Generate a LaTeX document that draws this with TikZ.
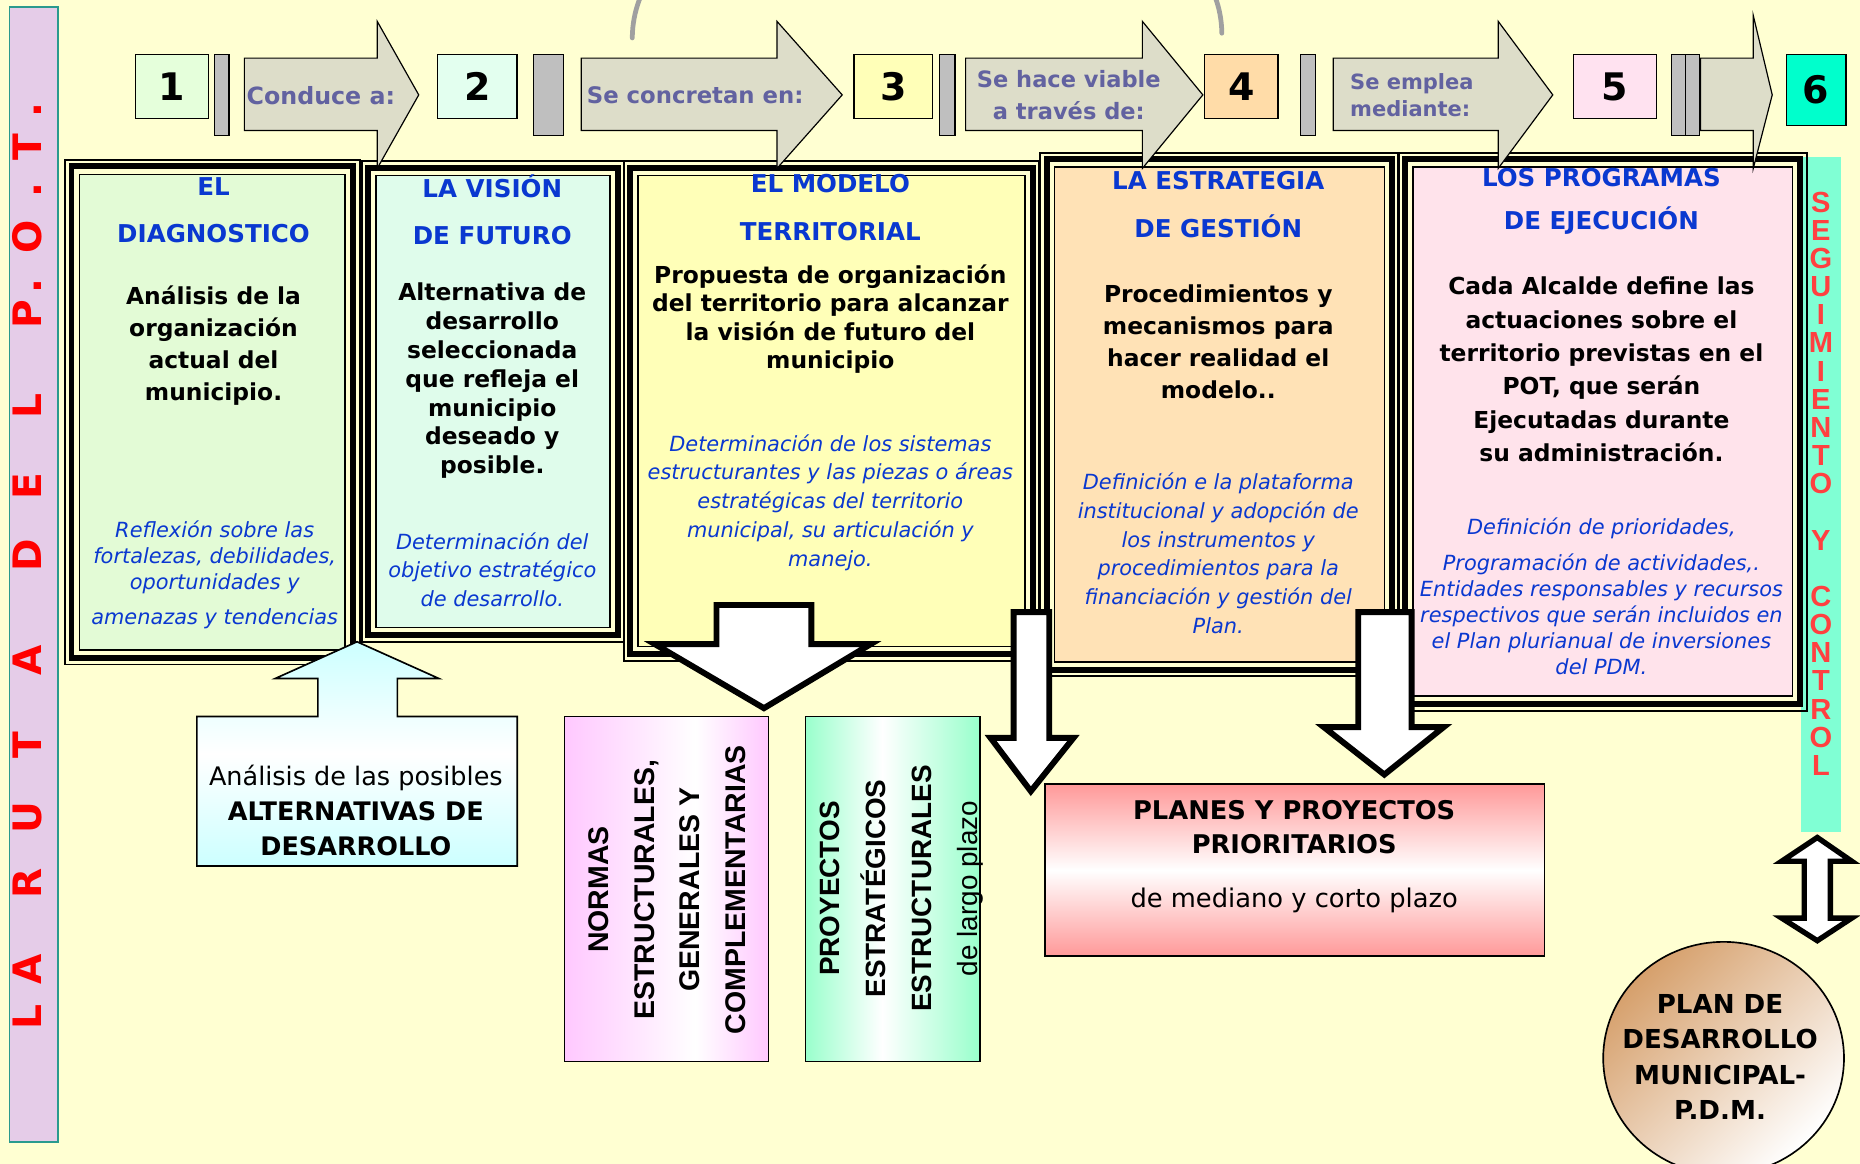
\documentclass[tikz,border=0pt]{standalone}
\usepackage{fontspec}
\setmainfont{DejaVu Sans}
\newfontfamily\arialf{Liberation Sans}
\usetikzlibrary{shapes.geometric}

\definecolor{bgc}{HTML}{FFFFD2}
\definecolor{fillA}{HTML}{E3FBD6}
\definecolor{fillB}{HTML}{DFFCEB}
\definecolor{fillC}{HTML}{FFFFB8}
\definecolor{fillD}{HTML}{FFE2B6}
\definecolor{fillE}{HTML}{FFE3EB}
\definecolor{num1}{HTML}{E5FFDB}
\definecolor{num2}{HTML}{E3FFEF}
\definecolor{num3}{HTML}{FFFFB8}
\definecolor{num4}{HTML}{FFDCA8}
\definecolor{num5}{HTML}{FFE2F0}
\definecolor{num6}{HTML}{00FFCC}
\definecolor{flowfill}{HTML}{DDDDC9}
\definecolor{bargray}{HTML}{BFBFBF}
\definecolor{ttlblue}{HTML}{0A38D0}
\definecolor{itblue}{HTML}{0A38D0}
\definecolor{slate}{HTML}{6262A0}
\definecolor{lav}{HTML}{E5CCE8}
\definecolor{tealb}{HTML}{2A9A8E}
\definecolor{aqua}{HTML}{80FFD4}
\definecolor{segred}{HTML}{FF4040}
\definecolor{arcgray}{HTML}{A0A0A0}
\definecolor{cyanA}{HTML}{CCFFFF}
\definecolor{pinkN}{HTML}{FFC8FF}
\definecolor{greenP}{HTML}{99FFCC}
\definecolor{pinkP}{HTML}{FF9999}
\definecolor{tanE}{HTML}{D6A06C}

\pgfdeclarehorizontalshading{normshade}{100bp}{color(0bp)=(pinkN); color(25bp)=(pinkN); color(57bp)=(white); color(75bp)=(pinkN); color(100bp)=(pinkN)}
\pgfdeclarehorizontalshading{proyshade}{100bp}{color(0bp)=(greenP); color(25bp)=(greenP); color(47bp)=(white); color(75bp)=(greenP); color(100bp)=(greenP)}

\newcommand\tripleframe[1]{%
  \draw[line width=5pt] ([xshift=-6pt,yshift=6pt]#1.north west) rectangle ([xshift=6pt,yshift=-6pt]#1.south east);
  \draw[line width=1.6pt] ([xshift=-11.5pt,yshift=11.5pt]#1.north west) rectangle ([xshift=11.5pt,yshift=-11.5pt]#1.south east);}

\begin{document}
\begin{tikzpicture}[x=1pt,y=-1pt, line join=miter,
  numbox/.style={draw=black, line width=1.2pt, inner sep=0pt, font=\fontsize{32}{36}\selectfont\bfseries},
  gbar/.style={draw=black, line width=1pt, fill=bargray, inner sep=0pt, minimum height=68pt},
  flow/.style={draw=black, line width=1pt, fill=flowfill},
  flowtext/.style={text=slate, align=center, inner sep=0pt},
  bigbox/.style={draw=black, line width=1.4pt, inner sep=0pt},
  ttl/.style={text=ttlblue, align=center, inner sep=0pt, font=\fontsize{20.7}{40}\selectfont\bfseries},
  bodytxt/.style={align=center, inner sep=0pt},
  ittxt/.style={text=itblue, align=center, inner sep=0pt},
  fat/.style={draw=black, line width=5pt, fill=white, line join=miter},
  redletter/.style={text=red, inner sep=0pt, text height=24pt, text depth=0pt, font=\fontsize{33}{33}\selectfont\bfseries, rotate=90},
  segletter/.style={text=segred, inner sep=0pt, font=\arialf\fontsize{24.5}{24.5}\selectfont\bfseries, text height=17.5pt, text depth=0pt},
]
\useasboundingbox (0,0) rectangle (1568,981);
\fill[bgc] (0,0) rectangle (1568,981);

% gray arc at the top
\draw[arcgray, line width=4pt, line cap=round] (533,32) .. controls (535,-150) and (1028,-150) .. (1030,28);

% left bar
\node[draw=tealb, line width=1.5pt, fill=lav, minimum width=41pt, minimum height=957pt, inner sep=0pt] (lbar) at (28.5,484.5) {};
\foreach \ch/\yy [count=\i] in {L/857,A/817,R/745,U/689,T/628,A/557,D/468,E/410,L/342,P/265,./241,O/200,./160,T/124,./93}
  \node[redletter] (lr\i) at (23,\yy) {\ch};

% seguimiento bar
\node[fill=aqua, minimum width=34pt, minimum height=569pt, inner sep=0pt] (sbar) at (1535,416.5) {};
\foreach \ch/\k in {S/0,E/1,G/2,U/3,I/4,M/5,I/6,E/7,N/8,T/9,O/10,Y/12,C/14,O/15,N/16,T/17,R/18,O/19,L/20}
  \node[segletter] (sg\k) at (1535,{170+\k*23.75}) {\ch};

% big boxes
\node[bigbox, fill=fillA, minimum width=224pt, minimum height=401pt] (diag) at (179,347.5) {};
\tripleframe{diag}
\node[bigbox, fill=fillB, minimum width=197pt, minimum height=381pt] (vision) at (415.5,338.5) {};
\tripleframe{vision}
\node[bigbox, fill=fillC, minimum width=326pt, minimum height=397pt] (modelo) at (701,346.5) {};
\tripleframe{modelo}
\node[bigbox, fill=fillD, minimum width=278pt, minimum height=417pt] (estr) at (1028,349.5) {};
\tripleframe{estr}
\node[bigbox, fill=fillE, minimum width=320pt, minimum height=446pt] (prog) at (1351,364) {};
\tripleframe{prog}

% texts of box A
\node[ttl] (diagT) at (180,177) {EL\\DIAGNOSTICO};
\node[bodytxt, font=\fontsize{19.7}{27}\selectfont\bfseries] (diagB) at (180,291.5) {Análisis de la\\organización\\actual del\\municipio.};
\node[ittxt, font=\fontsize{17.6}{22}\selectfont\itshape] (diagI) at (181,484.5) {Reflexión sobre las\\fortalezas, debilidades,\\oportunidades y\\[7pt]amenazas y tendencias};
% box B
\node[ttl] (visT) at (415,177) {LA VISIÓN\\DE FUTURO};
\node[bodytxt, font=\fontsize{19.7}{24.33}\selectfont\bfseries] (visB) at (415,321) {Alternativa de\\desarrollo\\seleccionada\\que refleja el\\municipio\\deseado y\\posible.};
\node[ittxt, font=\fontsize{17.6}{24}\selectfont\itshape] (visI) at (415,480) {Determinación del\\objetivo estratégico\\de desarrollo.};
% box C
\node[ttl] (modT) at (700,175) {EL MODELO\\TERRITORIAL};
\node[bodytxt, font=\fontsize{19.7}{24}\selectfont\bfseries] (modB) at (700,269) {Propuesta de organización\\del territorio para alcanzar\\la visión de futuro del\\municipio};
\node[ittxt, font=\fontsize{17.6}{24.25}\selectfont\itshape] (modI) at (700,423.5) {Determinación de los sistemas\\estructurantes y las piezas o áreas\\estratégicas del territorio\\municipal, su articulación y\\manejo.};
% box D
\node[ttl, font=\fontsize{20.7}{41}\selectfont\bfseries] (estT) at (1027,172.5) {LA ESTRATEGIA\\DE GESTIÓN};
\node[bodytxt, font=\fontsize{19.7}{27}\selectfont\bfseries] (estB) at (1027,288.5) {Procedimientos y\\mecanismos para\\hacer realidad el\\modelo..};
\node[ittxt, font=\fontsize{17.6}{24.2}\selectfont\itshape] (estI) at (1027,466.5) {Definición e la plataforma\\institucional y adopción de\\los instrumentos y\\procedimientos para la\\financiación y gestión del\\Plan.};
% box E
\node[ttl, font=\fontsize{20.7}{36}\selectfont\bfseries] (progT) at (1350,170) {LOS PROGRAMAS\\DE EJECUCIÓN};
\node[bodytxt, font=\fontsize{19.7}{28.2}\selectfont\bfseries] (progB) at (1350,311.5) {Cada Alcalde define las\\actuaciones sobre el\\territorio previstas en el\\POT, que serán\\Ejecutadas durante\\su administración.};
\node[ittxt, font=\fontsize{17.6}{22}\selectfont\itshape] (progI) at (1350,503) {Definición de prioridades,\\[8pt]Programación de actividades,.\\Entidades responsables y recursos\\respectivos que serán incluidos en\\el Plan plurianual de inversiones\\del PDM.};

% top flow arrows
\draw[flow] (206,49) -- (318,49) -- (318,18) -- (353,80) -- (318,142) -- (318,110) -- (206,110) -- cycle;
\draw[flow] (490,49) -- (655,49) -- (655,18) -- (710,80) -- (655,142) -- (655,110) -- (490,110) -- cycle;
\draw[flow] (814,49) -- (963,49) -- (963,18) -- (1014,80) -- (963,142) -- (963,110) -- (814,110) -- cycle;
\draw[flow] (1124,49) -- (1263,49) -- (1263,18) -- (1309,80) -- (1263,142) -- (1263,110) -- (1124,110) -- cycle;
\draw[flow] (1433.5,49) -- (1478,49) -- (1478,13) -- (1494,80) -- (1478,142) -- (1478,110) -- (1433.5,110) -- cycle;
\node[flowtext, font=\fontsize{20}{24}\selectfont\bfseries] (f1) at (270.5,81) {Conduce a:};
\node[flowtext, font=\fontsize{19.2}{24}\selectfont\bfseries] (f2) at (586,80) {Se concretan en:};
\node[flowtext, font=\fontsize{19}{27}\selectfont\bfseries] (f3) at (901,80.5) {Se hace viable\\a través de:};
\node[flowtext, align=left, anchor=west, font=\fontsize{17.7}{23}\selectfont\bfseries] (f4) at (1138,80.5) {Se emplea\\mediante:};

% number boxes
\node[numbox, fill=num1, minimum width=62pt, minimum height=54pt] (n1) at (145,73) {1};
\node[numbox, fill=num2, minimum width=67pt, minimum height=54pt] (n2) at (402.3,73) {2};
\node[numbox, fill=num3, minimum width=66pt, minimum height=54pt] (n3) at (753,73) {3};
\node[numbox, fill=num4, minimum width=62pt, minimum height=54pt] (n4) at (1046.5,73) {4};
\node[numbox, fill=num5, minimum width=70pt, minimum height=54pt] (n5) at (1361.5,73) {5};
\node[numbox, fill=num6, minimum width=50pt, minimum height=60pt] (n6) at (1531,76) {6};

% gray separators
\node[gbar, minimum width=12pt] (b1) at (187,80) {};
\node[gbar, minimum width=25pt] (b2) at (462.5,80) {};
\node[gbar, minimum width=13pt] (b3) at (798.5,80) {};
\node[gbar, minimum width=13pt] (b4) at (1102.5,80) {};
\node[gbar, minimum width=12pt] (b5) at (1415,80) {};
\node[gbar, minimum width=12pt] (b6) at (1427,80) {};

% alternativas (up arrow box)
\draw[line width=1.4pt, top color=cyanA, bottom color=cyanA, middle color=white] (166,730) -- (166,604) -- (268,604) -- (268,572) -- (232,572) -- (301,541) -- (370,572) -- (335,572) -- (335,604) -- (436,604) -- (436,730) -- cycle;
\node[align=center, inner sep=0pt, font=\fontsize{21.5}{29.5}\selectfont] (alt) at (300,683.5) {Análisis de las posibles\\\textbf{ALTERNATIVAS DE}\\\textbf{DESARROLLO}};

% normas / proyectos
\node[draw=black, line width=1.2pt, shade, shading=normshade, minimum width=172pt, minimum height=291pt, inner sep=0pt] (normas) at (562,749.5) {};
\node[rotate=90, align=center, inner sep=0pt, font=\arialf\fontsize{24}{38.5}\selectfont\bfseries] (normasT) at (562.5,750) {NORMAS\\ESTRUCTURALES,\\GENERALES Y\\COMPLEMENTARIAS};
\node[draw=black, line width=1.2pt, shade, shading=proyshade, minimum width=147pt, minimum height=291pt, inner sep=0pt] (proy) at (752.5,749.5) {};
\node[rotate=90, align=center, inner sep=0pt, font=\arialf\fontsize{23.5}{38.7}\selectfont\bfseries] (proyT) at (760,749) {PROYECTOS\\ESTRATÉGICOS\\ESTRUCTURALES\\{\mdseries de largo plazo}};

% planes y proyectos
\node[draw=black, line width=1.4pt, top color=pinkP, bottom color=pinkP, middle color=white, minimum width=421pt, minimum height=145pt, inner sep=0pt] (planes) at (1091.5,733.5) {};
\node[align=center, inner sep=0pt, font=\fontsize{21.7}{29}\selectfont] (planesT) at (1091,722) {\textbf{PLANES Y PROYECTOS}\\\textbf{PRIORITARIOS}\\[16pt]de mediano y corto plazo};

% fat white arrows
\draw[fat] (604,510) -- (684,510) -- (684,543) -- (734,543) -- (644,597) -- (552,543) -- (604,543) -- cycle;
\draw[fat] (854.5,516) -- (884.5,516) -- (884.5,622) -- (905,622) -- (869,667) -- (835,622) -- (854.5,622) -- cycle;
\draw[fat] (1145,516) -- (1190,516) -- (1190,613) -- (1217,613) -- (1167,653) -- (1116,613) -- (1145,613) -- cycle;
\draw[fat, line width=4.5pt] (1532,706) -- (1561,726) -- (1543,726) -- (1543,774) -- (1561,774) -- (1532,793) -- (1502,774) -- (1521,774) -- (1521,726) -- (1502,726) -- cycle;

% plan de desarrollo municipal
\node[draw=black, line width=1.4pt, ellipse, minimum width=203pt, minimum height=196pt, inner sep=0pt, top color=tanE, bottom color=white, shading angle=45] (pdm) at (1453,892) {};
\node[align=center, inner sep=0pt, font=\fontsize{22}{30}\selectfont\bfseries] (pdmT) at (1450,891) {PLAN DE\\DESARROLLO\\MUNICIPAL-\\P.D.M.};
\end{tikzpicture}
\end{document}
